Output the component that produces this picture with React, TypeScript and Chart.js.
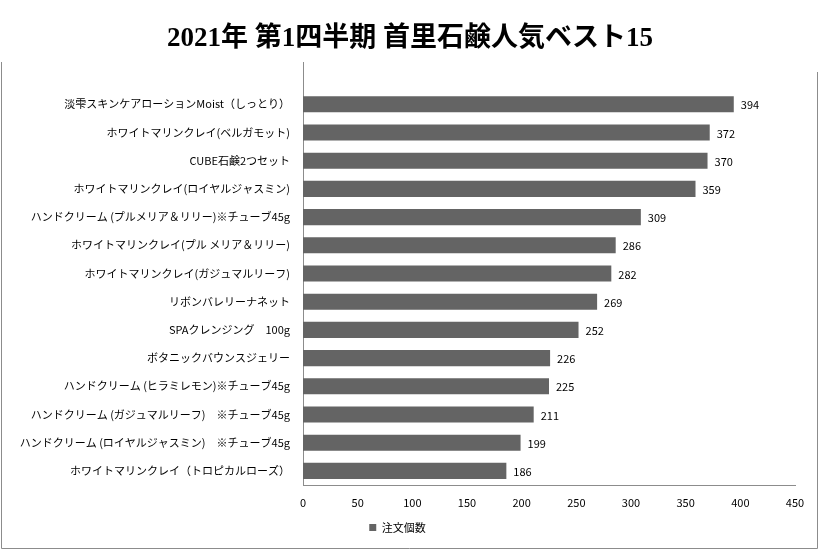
import React, { useRef, useEffect } from 'react';
import { Chart, registerables } from 'chart.js';

Chart.register(...registerables);

const chartTitle = '2021年 第1四半期 首里石鹸人気ベスト15';

// top slot is empty in the source sheet (15 rows, 14 filled)
const products = [
  '',
  '淡雫スキンケアローションMoist（しっとり）',
  'ホワイトマリンクレイ(ベルガモット)',
  'CUBE石鹸2つセット',
  'ホワイトマリンクレイ(ロイヤルジャスミン)',
  'ハンドクリーム (プルメリア＆リリー)※チューブ45g',
  'ホワイトマリンクレイ(プル メリア＆リリー)',
  'ホワイトマリンクレイ(ガジュマルリーフ)',
  'リボンバレリーナネット',
  'SPAクレンジング　100g',
  'ボタニックバウンスジェリー',
  'ハンドクリーム (ヒラミレモン)※チューブ45g',
  'ハンドクリーム (ガジュマルリーフ)　※チューブ45g',
  'ハンドクリーム (ロイヤルジャスミン)　※チューブ45g',
  'ホワイトマリンクレイ（トロピカルローズ）',
];
const orders = [null, 394, 372, 370, 359, 309, 286, 282, 269, 252, 226, 225, 211, 199, 186];
const seriesName = '注文個数';
const xMin = 0;
const xMax = 450;
const xStep = 50;

const labelFont = "'Noto Sans CJK JP', 'Noto Sans', sans-serif";

const valueLabels = {
  id: 'valueLabels',
  afterDatasetsDraw(chart: any) {
    const { ctx } = chart;
    const meta = chart.getDatasetMeta(0);
    ctx.save();
    ctx.font = `11px ${labelFont}`;
    ctx.fillStyle = '#000';
    ctx.textAlign = 'left';
    ctx.textBaseline = 'middle';
    meta.data.forEach((bar: any, i: number) => {
      const v = chart.data.datasets[0].data[i];
      if (v == null) return;
      ctx.fillText(String(v), bar.x + 7, bar.y + 1);
    });
    ctx.restore();
  },
};

// title centred on the whole picture, plus the grey frame (its top edge is cut off in the original)
const frame = {
  id: 'frame',
  afterDraw(chart: any) {
    const { ctx, width, height } = chart;
    ctx.save();
    ctx.font = "bold 27px 'Liberation Serif', 'Noto Sans CJK JP', serif";
    ctx.fillStyle = '#000';
    ctx.textAlign = 'center';
    ctx.textBaseline = 'middle';
    ctx.fillText(chartTitle, 410, 39);

    ctx.strokeStyle = '#8c8c8c';
    ctx.lineWidth = 1;
    ctx.beginPath();
    ctx.moveTo(1.5, 62);
    ctx.lineTo(1.5, height - 1.5);
    ctx.lineTo(width - 3.5, height - 1.5);
    ctx.lineTo(width - 3.5, 72);
    ctx.stroke();
    ctx.restore();
  },
};

export default function App() {
  const canvasRef = useRef<HTMLCanvasElement>(null);
  const chartRef = useRef<Chart | null>(null);

  useEffect(() => {
    document.body.style.margin = '0';
    if (chartRef.current) chartRef.current.destroy();

    chartRef.current = new Chart(canvasRef.current!, {
      type: 'bar',
      data: {
        labels: products,
        datasets: [
          {
            label: seriesName,
            data: orders,
            backgroundColor: '#646464',
            barPercentage: 0.57,
            categoryPercentage: 1,
          },
        ],
      },
      options: {
        indexAxis: 'y',
        animation: false,
        responsive: false,
        layout: { padding: { left: 0, right: 26, top: 62, bottom: 7 } },
        plugins: {
          title: { display: false },
          legend: {
            position: 'bottom',
            labels: {
              color: '#000',
              boxWidth: 7,
              boxHeight: 7,
              padding: 10,
              font: { family: labelFont, size: 11 },
            },
          },
          tooltip: { enabled: false },
        },
        scales: {
          x: {
            min: xMin,
            max: xMax,
            ticks: { stepSize: xStep, color: '#000', padding: 11, font: { family: labelFont, size: 11 } },
            grid: { display: false, drawTicks: false },
            border: { color: '#8c8c8c' },
            afterFit(scale: any) {
              scale.height = 27;
            },
          },
          y: {
            ticks: { color: '#000', padding: 13, autoSkip: false, font: { family: labelFont, size: 11 } },
            grid: { display: false, drawTicks: false },
            border: { color: '#8c8c8c' },
            afterFit(scale: any) {
              scale.width = 303;
            },
          },
        },
      },
      plugins: [valueLabels, frame],
    });

    return () => {
      if (chartRef.current) {
        chartRef.current.destroy();
        chartRef.current = null;
      }
    };
  }, []);

  return (
    <div style={{ width: 821, height: 550, background: '#fff' }}>
      <canvas ref={canvasRef} width={821} height={550}></canvas>
    </div>
  );
}
